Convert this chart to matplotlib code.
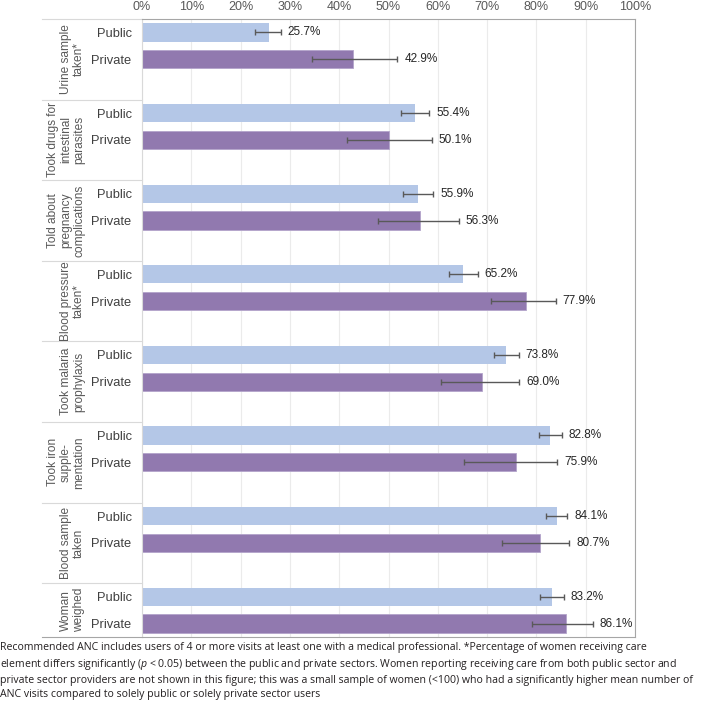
import matplotlib.pyplot as plt
import matplotlib.transforms as mtransforms
import numpy as np

plt.rcParams['font.family'] = ['Liberation Sans', 'DejaVu Sans']
plt.rcParams['mathtext.fontset'] = 'custom'
plt.rcParams['mathtext.it'] = 'Open Sans:italic'
plt.rcParams['mathtext.rm'] = 'Open Sans'

categories = ["Urine sample\ntaken*", "Took drugs for\nintestinal\nparasites",
              "Told about\npregnancy\ncomplications", "Blood pressure\ntaken*",
              "Took malaria\nprophylaxis", "Took iron\nsupple-\nmentation",
              "Blood sample\ntaken", "Woman\nweighed"]
sectors = ["Public", "Private"]

public = [25.7, 55.4, 55.9, 65.2, 73.8, 82.8, 84.1, 83.2]
public_lo = [23.0, 52.5, 53.0, 62.3, 71.3, 80.6, 81.9, 80.8]
public_hi = [28.1, 58.3, 59.1, 68.1, 76.4, 85.1, 86.3, 85.5]

private = [42.9, 50.1, 56.3, 77.9, 69.0, 75.9, 80.7, 86.1]
private_lo = [34.5, 41.5, 47.9, 70.7, 60.6, 65.3, 73.1, 79.2]
private_hi = [51.8, 58.8, 64.2, 83.9, 76.5, 84.2, 86.7, 91.4]

xticks = np.arange(0, 101, 10)

note = ("Recommended ANC includes users of 4 or more visits at least one with a medical professional. *Percentage of women receiving care\n"
        "element differs significantly ($\\it{p}$ < 0.05) between the public and private sectors. Women reporting receiving care from both public sector and\n"
        "private sector providers are not shown in this figure; this was a small sample of women (<100) who had a significantly higher mean number of\n"
        "ANC visits compared to solely public or solely private sector users")

W, H = 709, 702
fig = plt.figure(figsize=(W / 100, H / 100), dpi=100)
ax = fig.add_axes([142 / W, 1 - 637 / H, (635 - 142) / W, (637 - 19) / H])

n = len(categories)
y_pub = np.arange(n) * 3
y_pri = y_pub + 1
c_pub = '#B4C7E7'
c_pri = '#9179AF'
err_col = '#595959'

ax.barh(y_pub, public, height=0.68, color=c_pub, zorder=2)
ax.barh(y_pri, private, height=0.68, color=c_pri, edgecolor='#B3A4CB', linewidth=0.6, zorder=2)

pub = np.array(public)
pri = np.array(private)
ax.errorbar(pub, y_pub, xerr=[pub - np.array(public_lo), np.array(public_hi) - pub],
            fmt='none', ecolor=err_col, elinewidth=1, capsize=2.2, capthick=1, zorder=3)
ax.errorbar(pri, y_pri, xerr=[pri - np.array(private_lo), np.array(private_hi) - pri],
            fmt='none', ecolor=err_col, elinewidth=1, capsize=2.2, capthick=1, zorder=3)

for v, hi, y in zip(public + private, public_hi + private_hi, list(y_pub) + list(y_pri)):
    ax.annotate(f"{v:.1f}%", xy=(hi, y), xytext=(5, 0), textcoords='offset points',
                va='center', ha='left', fontsize=8.5, color='#262626')

ax.set_xlim(0, 100)
ax.set_ylim(3 * n - 1.5, -0.5)
ax.set_xticks(xticks)
ax.set_xticklabels([f"{t}%" for t in xticks], fontsize=9, color='#595959')
ax.xaxis.tick_top()
ax.tick_params(axis='x', length=0, pad=4)
ax.grid(axis='x', color='#EBEBEB', linewidth=0.8, zorder=0)

ax.set_yticks(list(y_pub) + list(y_pri))
ax.set_yticklabels([sectors[0]] * n + [sectors[1]] * n, fontsize=9.3, color='#404040')
ax.tick_params(axis='y', length=0, pad=7.5)

for side in ['top', 'right', 'bottom']:
    ax.spines[side].set_color('#A6A6A6')
    ax.spines[side].set_linewidth(0.8)
ax.spines['left'].set_color('#D9D9D9')
ax.spines['left'].set_linewidth(0.8)

# block separators and category labels on the left
blend = mtransforms.blended_transform_factory(fig.transFigure, ax.transData)
bounds = [-0.5] + [3 * i + 2.5 for i in range(n - 1)] + [3 * n - 1.5]
for b in bounds[:-1]:
    ax.plot([42 / W, 142 / W], [b, b], transform=blend, color='#D9D9D9',
            linewidth=0.8, clip_on=False)
ax.plot([42 / W, 142 / W], [bounds[-1], bounds[-1]], transform=blend, color='#A6A6A6',
        linewidth=0.8, clip_on=False)
for i, cat in enumerate(categories):
    mid = (bounds[i] + bounds[i + 1]) / 2
    ax.text(85 / W, mid, cat, transform=blend, rotation=90, ha='right', va='center',
            multialignment='center', fontsize=8.6, color='#595959', linespacing=1.12)

fig.text(0 / W, 1 - 642 / H, note, ha='left', va='top', fontsize=7.6,
         family='Open Sans', color='#231F20', linespacing=1.4)

fig.savefig('out.png', dpi=100)
